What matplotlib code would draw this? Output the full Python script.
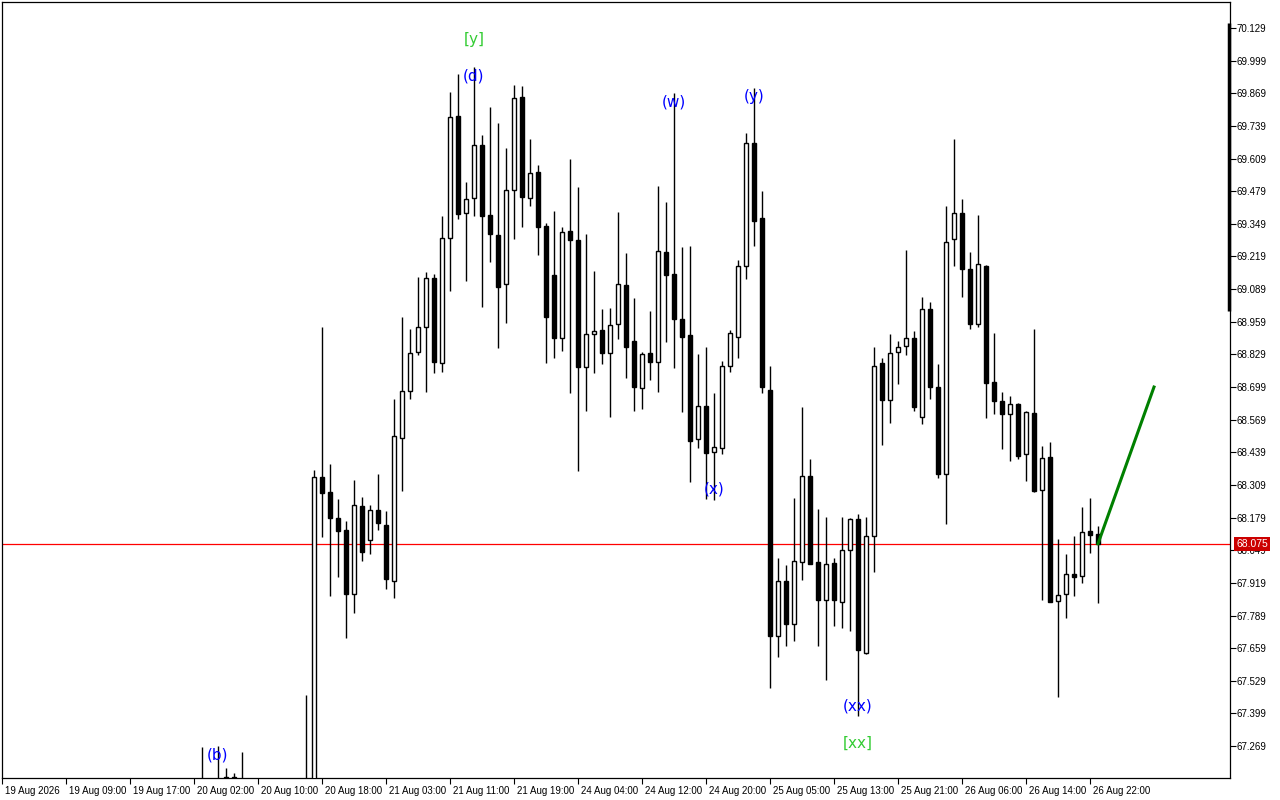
import numpy as np
import matplotlib
matplotlib.use("Agg")
import matplotlib.pyplot as plt
import matplotlib.transforms as mtransforms

# hourly bars, first entry is bar index 25 (bars before it sit below the visible range)
first_bar = 25
opens = [67.05, 67.00, 67.00, 67.146, 67.146, 67.05, 67.02, 67.00, 67.03, 67.01, 67.00, 67.02, 67.03,
         67.05, 66.95, 68.339, 68.279, 68.176, 68.130, 67.873, 68.224, 68.089, 68.208, 68.148, 67.928,
         68.495, 68.683, 68.840, 68.937, 69.132, 68.793, 69.291, 69.777, 69.391, 69.451, 69.662, 69.384,
         69.304, 69.108, 69.483, 69.854, 69.451, 69.554, 69.340, 69.145, 68.893, 69.320, 69.285, 68.780,
         68.909, 68.926, 68.836, 68.950, 69.105, 68.882, 68.694, 68.836, 68.800, 69.237, 69.149, 68.971,
         68.906, 68.491, 68.623, 68.439, 68.455, 68.783, 68.897, 69.181, 69.670, 69.371, 68.687, 67.709,
         67.925, 67.757, 68.003, 68.343, 68.003, 67.849, 68.000, 67.844, 68.048, 68.173, 67.640, 68.107,
         68.793, 68.649, 68.840, 68.862, 68.893, 68.578, 69.009, 68.698, 68.351, 69.287, 69.391, 69.168,
         68.949, 69.181, 68.718, 68.643, 68.590, 68.630, 68.431, 68.594, 68.289, 68.419, 67.845, 67.873,
         67.953, 67.945, 68.124, 68.114]
highs = [67.266, 67.10, 67.269, 67.181, 67.161, 67.245, 67.11, 67.09, 67.10, 67.08, 67.10, 67.11, 67.09,
         67.472, 68.368, 68.937, 68.392, 68.253, 68.167, 68.329, 68.260, 68.229, 68.353, 68.204, 68.651,
         68.977, 68.930, 69.136, 69.156, 69.148, 69.380, 69.875, 69.946, 69.514, 69.975, 69.703, 69.813,
         69.749, 69.652, 69.902, 69.898, 69.687, 69.583, 69.353, 69.400, 69.338, 69.606, 69.497, 69.308,
         69.161, 69.010, 69.012, 69.397, 69.231, 69.052, 68.840, 69.000, 69.500, 69.437, 69.871, 69.258,
         69.262, 68.830, 68.860, 68.674, 68.804, 68.926, 69.205, 69.712, 69.890, 69.480, 68.783, 68.020,
         67.991, 68.256, 68.618, 68.412, 68.213, 68.181, 68.020, 68.181, 68.176, 68.195, 68.181, 68.857,
         68.813, 68.912, 68.883, 69.245, 68.922, 69.056, 69.036, 68.789, 69.420, 69.687, 69.448, 69.236,
         69.384, 69.185, 68.913, 68.678, 68.663, 68.635, 68.603, 68.930, 68.464, 68.481, 68.094, 68.034,
         68.105, 68.222, 68.258, 68.147]
lows = [66.90, 66.90, 66.90, 66.95, 66.95, 66.90, 66.92, 66.90, 66.91, 66.90, 66.92, 66.90, 66.91,
        66.90, 66.90, 68.103, 67.868, 67.941, 67.698, 67.800, 68.007, 68.035, 68.130, 67.893, 67.857,
        68.286, 68.653, 68.826, 68.680, 68.754, 68.760, 69.083, 69.367, 69.123, 69.381, 69.016, 69.196,
        68.853, 68.955, 69.287, 69.338, 69.421, 69.225, 68.793, 68.813, 68.844, 68.674, 68.366, 68.605,
        68.756, 68.789, 68.581, 68.889, 68.734, 68.605, 68.610, 68.727, 68.680, 68.879, 68.774, 68.601,
        68.322, 68.457, 68.255, 68.250, 68.431, 68.760, 68.813, 69.128, 69.262, 68.676, 67.501, 67.622,
        67.667, 67.688, 67.930, 67.996, 67.667, 67.532, 67.748, 67.740, 67.726, 67.390, 67.636, 67.961,
        68.467, 68.554, 68.710, 68.826, 68.605, 68.550, 68.650, 68.335, 68.152, 69.182, 69.059, 68.929,
        68.937, 68.574, 68.592, 68.451, 68.405, 68.411, 68.326, 68.282, 67.851, 67.844, 67.463, 67.778,
        67.868, 67.920, 68.037, 67.838]
closes = [67.00, 67.05, 67.05, 67.140, 67.142, 67.00, 67.05, 67.03, 67.01, 67.00, 67.02, 67.03, 67.05,
          67.00, 68.339, 68.276, 68.176, 68.127, 67.873, 68.228, 68.043, 68.208, 68.156, 67.933, 68.503,
          68.683, 68.833, 68.937, 69.132, 68.797, 69.291, 69.776, 69.387, 69.449, 69.662, 69.381, 69.307,
          69.099, 69.483, 69.849, 69.455, 69.550, 69.338, 68.979, 68.893, 69.315, 69.285, 68.780, 68.910,
          68.923, 68.836, 68.946, 69.108, 68.860, 68.698, 68.830, 68.800, 69.241, 69.146, 68.969, 68.899,
          68.485, 68.623, 68.437, 68.459, 68.783, 68.913, 69.181, 69.670, 69.361, 68.698, 67.709, 67.925,
          67.757, 68.008, 68.343, 67.996, 67.852, 67.996, 67.852, 68.051, 68.173, 67.650, 68.104, 68.784,
          68.646, 68.836, 68.860, 68.895, 68.618, 69.009, 68.698, 68.351, 69.278, 69.391, 69.168, 68.949,
          69.188, 68.716, 68.645, 68.590, 68.630, 68.425, 68.598, 68.286, 68.415, 67.844, 67.869, 67.953,
          67.944, 68.120, 68.108, 68.075]

current_price = 68.075
# projection line: from last close to target
proj_bars = [137, 144]
proj_prices = [68.075, 68.699]

# wave labels: (text, bar, price, colour)
wave_labels = [("[y]", 59, 70.085, "#33cc33"), ("(d)", 59, 69.938, "#0000ff"),
               ("(w)", 84, 69.834, "#0000ff"), ("(y)", 94, 69.858, "#0000ff"),
               ("(x)", 89, 68.293, "#0000ff"), ("(xx)", 107, 67.428, "#0000ff"),
               ("[xx]", 107, 67.281, "#33cc33"), ("(b)", 27, 67.233, "#0000ff")]

time_labels = ["19 Aug 2026", "19 Aug 09:00", "19 Aug 17:00", "20 Aug 02:00", "20 Aug 10:00",
               "20 Aug 18:00", "21 Aug 03:00", "21 Aug 11:00", "21 Aug 19:00", "24 Aug 04:00",
               "24 Aug 12:00", "24 Aug 20:00", "25 Aug 05:00", "25 Aug 13:00", "25 Aug 21:00",
               "26 Aug 06:00", "26 Aug 14:00", "26 Aug 22:00"]
price_ticks = [70.129 - 0.13 * k for k in range(23)]

o = np.array(opens)
h = np.array(highs)
l = np.array(lows)
c = np.array(closes)
x = np.arange(first_bar, first_bar + len(o))

fig = plt.figure(figsize=(12.8, 8), dpi=100)
ax = fig.add_axes([2 / 1280, 22 / 800, 1228 / 1280, 776 / 800])

# wicks
ax.vlines(x, l, h, color="black", lw=1.0, zorder=2)

# bodies
up = c >= o
body_h = np.maximum(np.abs(c - o), 0.003)
body_b = np.minimum(o, c)
ax.bar(x[up], body_h[up], bottom=body_b[up], width=0.62, color="white",
       edgecolor="black", linewidth=1.0, zorder=3)
ax.bar(x[~up], body_h[~up], bottom=body_b[~up], width=0.62, color="black",
       edgecolor="black", linewidth=1.0, zorder=3)

# current price line
ax.axhline(current_price, color="#ff0000", lw=0.9, zorder=1)

# projection
ax.plot(proj_bars, proj_prices, color="#008000", lw=2.2, zorder=4)

for txt, b, p, col in wave_labels:
    ax.text(b, p, txt, color=col, fontsize=11, ha="center", va="center", zorder=5)

ax.set_xlim(0, 153.5)
ax.set_ylim(67.1418, 70.2326)

tick_font = {"family": "Liberation Sans", "size": 7}
ax.set_xticks(np.arange(len(time_labels)) * 8)
ax.set_xticklabels(time_labels, ha="left", fontdict=tick_font)
ax.tick_params(axis="x", direction="out", length=4, width=0.8, pad=2)
for lab in ax.get_xticklabels():
    lab.set_transform(lab.get_transform() + mtransforms.ScaledTranslation(3 / 100, 0, fig.dpi_scale_trans))

ax.yaxis.tick_right()
ax.set_yticks(price_ticks)
ax.set_yticklabels(["%.3f" % v for v in price_ticks], fontdict=tick_font)
ax.tick_params(axis="y", direction="out", length=4, width=0.8, pad=1)

for s in ax.spines.values():
    s.set_linewidth(0.9)

# thick scale marker on the right edge
trans = mtransforms.blended_transform_factory(ax.transAxes, ax.transData)
marker_top = 70.150
marker_bottom = 69.00
ax.plot([0.9995, 0.9995], [marker_bottom, marker_top], color="black", lw=2.5,
        transform=trans, clip_on=False, zorder=6, solid_capstyle="butt")

# current price tag
ax.text(1.0053, current_price, "%.3f" % current_price, transform=trans,
        family="Liberation Sans", fontsize=7.5,
        color="white", va="center", ha="left", zorder=7,
        bbox=dict(boxstyle="square,pad=0.2", facecolor="#cc0000", edgecolor="none"))

fig.savefig("out.png", dpi=100)
